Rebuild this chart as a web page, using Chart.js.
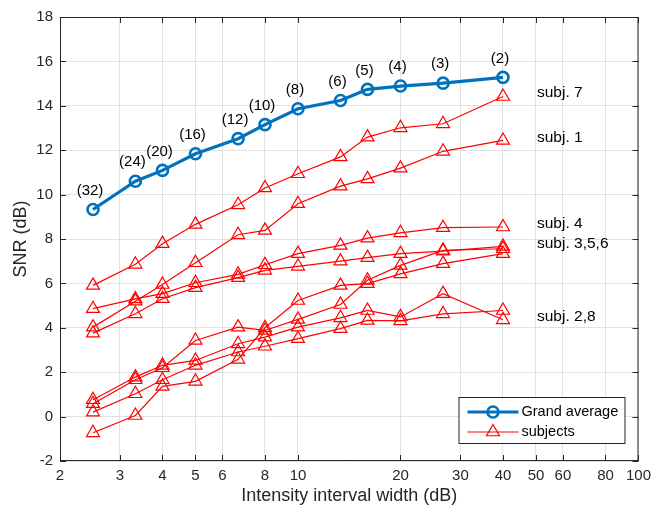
<!DOCTYPE html>
<html>
<head>
<meta charset="utf-8">
<script src="https://cdn.jsdelivr.net/npm/chart.js@4.4.0/dist/chart.umd.min.js"></script>
<style>
  html, body { margin: 0; padding: 0; background: #fff; }
</style>
</head>
<body>
<canvas id="grafico" width="657" height="510"></canvas>
<script>
// numero de intervalos y ancho de cada intervalo (dB)
const numIntervalos = [32, 24, 20, 16, 12, 10, 8, 6, 5, 4, 3, 2];
const anchos = [2.5, 3.33, 4, 5, 6.67, 8, 10, 13.33, 16, 20, 26.67, 40];

// SNR promedio
const promedio = [9.33, 10.6, 11.09, 11.84, 12.52, 13.15, 13.87, 14.24, 14.74, 14.89, 15.02, 15.28];

// SNR de cada sujeto
const subj7 = [5.91, 6.86, 7.79, 8.66, 9.54, 10.3, 10.94, 11.7, 12.59, 13.01, 13.19, 14.42];
const subj1 = [4.03, 5.2, 5.95, 6.93, 8.19, 8.39, 9.59, 10.38, 10.71, 11.19, 11.95, 12.44];
const subj4 = [4.86, 5.3, 5.54, 6.03, 6.41, 6.84, 7.34, 7.71, 8.04, 8.28, 8.51, 8.54];
const subj3 = [3.76, 4.63, 5.31, 5.81, 6.26, 6.59, 6.77, 7.0, 7.16, 7.34, 7.45, 7.67];
const subj5 = [-0.73, 0.05, 1.36, 1.59, 2.58, 4.0, 5.23, 5.91, 5.99, 6.43, 6.89, 7.34];
const subj6 = [0.58, 1.66, 2.2, 3.43, 4.03, 3.88, 4.38, 5.05, 6.14, 6.81, 7.49, 7.56];
const subj2 = [0.76, 1.78, 2.31, 2.53, 3.28, 3.58, 4.03, 4.45, 4.78, 4.49, 5.54, 4.36];
const subj8 = [0.2, 1.03, 1.66, 2.31, 2.91, 3.17, 3.51, 3.96, 4.33, 4.31, 4.63, 4.78];
const sujetos = [subj7, subj1, subj4, subj3, subj5, subj6, subj2, subj8];

// etiquetas de los sujetos a la derecha
const textoSujetos = ['subj. 7', 'subj. 1', 'subj. 4', 'subj. 3,5,6', 'subj. 2,8'];
const nivelSujetos = [14.6, 12.58, 8.7, 7.8, 4.51];
const xEtiquetaSujetos = 50;

// marcas de los ejes
const xTicks = [2, 3, 4, 5, 6, 8, 10, 20, 30, 40, 50, 60, 80, 100];
const yTicks = [-2, 0, 2, 4, 6, 8, 10, 12, 14, 16, 18];

const azul = '#0072BD';
const rojo = '#FF0000';
const gris = '#262626';
const fuente = "'Liberation Sans', Arial, Helvetica, sans-serif";

function puntos(valores) {
  return anchos.map((x, i) => ({ x: x, y: valores[i] }));
}

const datasets = sujetos.map((s) => ({
  label: 'subjects',
  data: puntos(s),
  borderColor: rojo,
  borderWidth: 1.2,
  pointStyle: 'triangle',
  pointRadius: 7.5,
  pointBorderWidth: 1.2,
  pointBorderColor: rojo,
  pointBackgroundColor: 'rgba(0,0,0,0)'
}));
datasets.push({
  label: 'Grand average',
  data: puntos(promedio),
  borderColor: azul,
  borderWidth: 3.2,
  pointStyle: 'circle',
  pointRadius: 5.5,
  pointBorderWidth: 2.6,
  pointBorderColor: azul,
  pointBackgroundColor: 'rgba(0,0,0,0)'
});

// caja, marcas interiores, anotaciones y leyenda
const extras = {
  id: 'extras',
  afterDraw(chart) {
    const ctx = chart.ctx;
    const a = chart.chartArea;
    const sx = chart.scales.x, sy = chart.scales.y;
    ctx.save();

    // caja
    ctx.strokeStyle = gris;
    ctx.lineWidth = 1;
    ctx.strokeRect(a.left + 0.5, a.top + 0.5, a.right - a.left - 1, a.bottom - a.top - 1);
    ctx.beginPath();
    const L = 6;
    yTicks.forEach(v => {
      const y = Math.round(sy.getPixelForValue(v)) + 0.5;
      ctx.moveTo(a.left, y); ctx.lineTo(a.left + L, y);
      ctx.moveTo(a.right, y); ctx.lineTo(a.right - L, y);
    });
    xTicks.forEach(v => {
      const x = Math.round(sx.getPixelForValue(v)) + 0.5;
      ctx.moveTo(x, a.bottom); ctx.lineTo(x, a.bottom - L);
      ctx.moveTo(x, a.top); ctx.lineTo(x, a.top + L);
    });
    ctx.stroke();

    // numero de intervalos sobre el promedio
    ctx.fillStyle = '#000';
    ctx.font = '15px ' + fuente;
    ctx.textAlign = 'center';
    ctx.textBaseline = 'middle';
    anchos.forEach((x, i) => {
      const px = sx.getPixelForValue(x);
      const py = sy.getPixelForValue(promedio[i]);
      ctx.fillText('(' + numIntervalos[i] + ')', px - 3, py - 19);
    });

    // etiquetas de sujetos
    ctx.textAlign = 'left';
    ctx.font = '15.5px ' + fuente;
    textoSujetos.forEach((t, i) => {
      ctx.fillText(t, sx.getPixelForValue(xEtiquetaSujetos) + 1, sy.getPixelForValue(nivelSujetos[i]));
    });

    // leyenda
    const lx = a.right - 180, lr = a.right - 14;
    const ly = a.bottom - 64, lb = a.bottom - 18;
    ctx.fillStyle = '#fff';
    ctx.fillRect(lx, ly, lr - lx, lb - ly);
    ctx.strokeStyle = gris;
    ctx.lineWidth = 1;
    ctx.strokeRect(lx + 0.5, ly + 0.5, lr - lx, lb - ly);

    const filas = [
      { txt: 'Grand average', color: azul, w: 3.2, y: ly + 15, marca: 'circulo' },
      { txt: 'subjects', color: rojo, w: 1.2, y: ly + 35, marca: 'triangulo' }
    ];
    filas.forEach(f => {
      ctx.strokeStyle = f.color;
      ctx.lineWidth = f.w;
      ctx.beginPath();
      ctx.moveTo(lx + 9, f.y);
      ctx.lineTo(lx + 60, f.y);
      ctx.stroke();
      const cx = lx + 34.5;
      ctx.beginPath();
      if (f.marca === 'circulo') {
        ctx.lineWidth = 2.6;
        ctx.arc(cx, f.y, 5.5, 0, Math.PI * 2);
      } else {
        const r = 7.5;
        ctx.moveTo(cx, f.y - r);
        ctx.lineTo(cx + r * Math.sin(Math.PI * 2 / 3), f.y + r / 2);
        ctx.lineTo(cx - r * Math.sin(Math.PI * 2 / 3), f.y + r / 2);
        ctx.closePath();
      }
      ctx.stroke();
      ctx.fillStyle = '#000';
      ctx.font = '14.5px ' + fuente;
      ctx.textAlign = 'left';
      ctx.fillText(f.txt, lx + 63, f.y);
    });
    ctx.restore();
  }
};

const config = {
  type: 'line',
  data: { datasets: datasets },
  options: {
    responsive: false,
    animation: false,
    devicePixelRatio: 1,
    layout: { padding: { top: 17, right: 15, left: 0, bottom: 0 } },
    plugins: {
      legend: { display: false },
      tooltip: { enabled: false }
    },
    scales: {
      x: {
        type: 'logarithmic',
        min: 2,
        max: 100,
        afterBuildTicks: (s) => { s.ticks = xTicks.map(v => ({ value: v })); },
        afterFit: (s) => { s.height = 49; },
        ticks: {
          autoSkip: false,
          maxRotation: 0,
          padding: 6,
          color: gris,
          font: { family: fuente, size: 15 },
          callback: (v) => String(v)
        },
        grid: { color: '#e1e1e1', drawTicks: false },
        border: { display: false },
        title: {
          display: true,
          text: 'Intensity interval width (dB)',
          color: gris,
          font: { family: fuente, size: 18 },
          padding: { top: 0, bottom: 3 }
        }
      },
      y: {
        type: 'linear',
        min: -2,
        max: 18,
        afterBuildTicks: (s) => { s.ticks = yTicks.map(v => ({ value: v })); },
        afterFit: (s) => { s.width = 60; },
        ticks: {
          padding: 7,
          color: gris,
          font: { family: fuente, size: 15 }
        },
        grid: { color: '#e1e1e1', drawTicks: false },
        border: { display: false },
        title: {
          display: true,
          text: 'SNR (dB)',
          color: gris,
          font: { family: fuente, size: 18 },
          padding: { top: 10, bottom: 0 }
        }
      }
    }
  },
  plugins: [extras]
};

new Chart(document.getElementById('grafico'), config);
</script>
</body>
</html>
